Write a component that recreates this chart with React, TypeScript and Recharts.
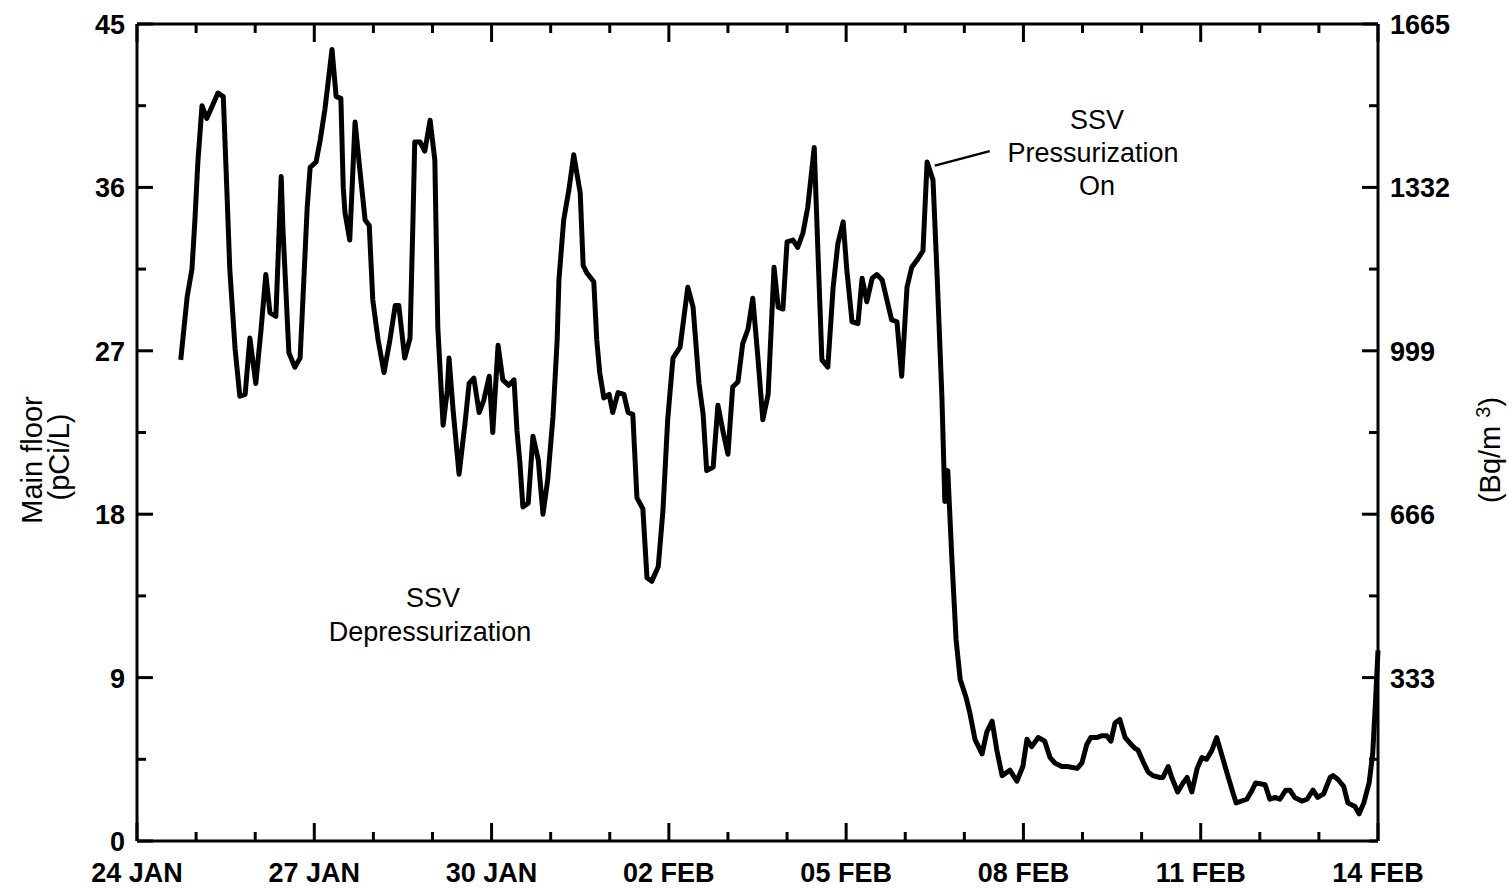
import React from 'react';
import { LineChart, Line, XAxis, YAxis, ReferenceLine } from 'recharts';

// time in days after 24 JAN 00:00, radon in pCi/L
const timeDays = [
  0.74, 0.85, 0.93, 0.98, 1.03, 1.10, 1.18, 1.37, 1.46, 1.52,
  1.57, 1.66, 1.74, 1.83, 1.91, 2.01, 2.10, 2.18, 2.25, 2.35,
  2.44, 2.47, 2.57, 2.67, 2.76, 2.81, 2.88, 2.93, 3.03, 3.10,
  3.18, 3.30, 3.37, 3.45, 3.49, 3.52, 3.60, 3.69, 3.77, 3.86,
  3.93, 3.99, 4.08, 4.18, 4.28, 4.37, 4.43, 4.53, 4.62, 4.67,
  4.70, 4.79, 4.87, 4.96, 5.04, 5.09, 5.18, 5.25, 5.28, 5.35,
  5.45, 5.55, 5.62, 5.70, 5.79, 5.87, 5.96, 6.02, 6.11, 6.19,
  6.29, 6.38, 6.43, 6.48, 6.53, 6.62, 6.70, 6.79, 6.87, 6.95,
  7.04, 7.11, 7.14, 7.22, 7.31, 7.39, 7.50, 7.55, 7.61, 7.73,
  7.78, 7.83, 7.90, 7.99, 8.05, 8.14, 8.24, 8.31, 8.39, 8.46,
  8.56, 8.63, 8.71, 8.82, 8.90, 8.98, 9.07, 9.19, 9.32, 9.41,
  9.51, 9.58, 9.64, 9.75, 9.83, 9.92, 10.00, 10.08, 10.17, 10.25,
  10.34, 10.42, 10.51, 10.59, 10.68, 10.78, 10.85, 10.93, 11.00, 11.10,
  11.18, 11.27, 11.35, 11.46, 11.52, 11.59, 11.69, 11.78, 11.86, 11.95,
  12.01, 12.10, 12.20, 12.27, 12.35, 12.44, 12.52, 12.61, 12.69, 12.77,
  12.86, 12.94, 13.03, 13.11, 13.20, 13.30, 13.37, 13.47, 13.54, 13.62,
  13.67, 13.72, 13.79, 13.86, 13.93, 14.03, 14.09, 14.18, 14.30, 14.38,
  14.47, 14.55, 14.64, 14.77, 14.89, 14.99, 15.06, 15.14, 15.25, 15.36,
  15.45, 15.53, 15.65, 15.74, 15.91, 15.99, 16.07, 16.14, 16.24, 16.33,
  16.41, 16.48, 16.55, 16.63, 16.72, 16.80, 16.89, 16.94, 17.02, 17.11,
  17.19, 17.31, 17.36, 17.45, 17.51, 17.61, 17.70, 17.77, 17.85, 17.94,
  18.02, 18.10, 18.19, 18.27, 18.36, 18.44, 18.55, 18.60, 18.78, 18.87,
  18.93, 19.09, 19.17, 19.26, 19.34, 19.44, 19.51, 19.59, 19.71, 19.80,
  19.90, 19.98, 20.08, 20.19, 20.24, 20.32, 20.42, 20.49, 20.61, 20.68,
  20.76, 20.85, 20.91, 20.96, 21.0,
];

const radonPci = [
  26.5, 30.0, 31.5, 34.2, 37.4, 40.5, 39.8, 41.2, 41.0, 35.9,
  31.5, 27.1, 24.5, 24.6, 27.7, 25.2, 28.2, 31.2, 29.1, 28.9,
  36.6, 33.7, 26.9, 26.1, 26.6, 30.0, 34.9, 37.1, 37.4, 38.6,
  40.3, 43.6, 41.0, 40.9, 36.0, 34.6, 33.1, 39.6, 37.0, 34.2,
  33.9, 29.8, 27.6, 25.8, 27.6, 29.5, 29.5, 26.6, 27.7, 34.2,
  38.5, 38.5, 38.0, 39.7, 37.5, 28.3, 22.9, 24.8, 26.6, 23.7,
  20.2, 23.0, 25.2, 25.5, 23.6, 24.3, 25.6, 22.5, 27.3, 25.4,
  25.1, 25.4, 22.6, 20.8, 18.4, 18.6, 22.3, 21.0, 18.0, 19.9,
  23.4, 27.6, 30.9, 34.2, 35.9, 37.8, 35.7, 31.7, 31.3, 30.8,
  27.6, 25.8, 24.4, 24.6, 23.6, 24.7, 24.6, 23.6, 23.5, 18.9,
  18.3, 14.5, 14.3, 15.1, 18.2, 23.2, 26.6, 27.2, 30.5, 29.4,
  25.2, 23.5, 20.4, 20.6, 24.0, 22.5, 21.3, 25.0, 25.3, 27.4,
  28.2, 29.9, 26.5, 23.2, 24.6, 31.6, 29.4, 29.3, 33.0, 33.1,
  32.7, 33.5, 34.9, 38.2, 32.7, 26.5, 26.1, 30.5, 32.9, 34.1,
  31.5, 28.6, 28.5, 31.0, 29.7, 31.0, 31.2, 30.9, 29.8, 28.7,
  28.6, 25.6, 30.5, 31.6, 32.0, 32.5, 37.4, 36.4, 31.1, 24.5,
  18.7, 20.4, 15.5, 11.1, 8.9, 7.9, 7.1, 5.6, 4.8, 6.0,
  6.6, 5.0, 3.6, 3.9, 3.3, 4.1, 5.6, 5.2, 5.7, 5.5,
  4.6, 4.3, 4.1, 4.1, 4.0, 4.3, 5.3, 5.7, 5.7, 5.8,
  5.8, 5.5, 6.5, 6.7, 5.7, 5.4, 5.1, 5.0, 4.4, 3.8,
  3.6, 3.5, 3.5, 4.1, 3.5, 2.7, 3.2, 3.5, 2.7, 4.0,
  4.6, 4.5, 5.0, 5.7, 4.7, 3.8, 2.6, 2.1, 2.3, 2.8,
  3.2, 3.1, 2.3, 2.4, 2.3, 2.8, 2.8, 2.4, 2.2, 2.3,
  2.8, 2.4, 2.6, 3.5, 3.6, 3.4, 3.0, 2.1, 1.9, 1.5,
  2.1, 3.2, 4.8, 7.8, 10.5,
];

const dayTicks = [0, 1, 2, 3, 4, 5, 6, 7, 8, 9, 10, 11, 12, 13, 14, 15, 16, 17, 18, 19, 20, 21];
const dayLabelTicks = [0, 3, 6, 9, 12, 15, 18, 21];
const dayLabels = ['24 JAN', '27 JAN', '30 JAN', '02 FEB', '05 FEB', '08 FEB', '11 FEB', '14 FEB'];

const pciTicks = [0, 4.5, 9, 13.5, 18, 22.5, 27, 31.5, 36, 40.5, 45];
const pciLabelTicks = [0, 9, 18, 27, 36, 45];

const bqTicks = [0, 166.5, 333, 499.5, 666, 832.5, 999, 1165.5, 1332, 1498.5, 1665];
const bqLabelTicks = [333, 666, 999, 1332, 1665];

const chartData = timeDays.map((t, i) => ({ t, v: radonPci[i] }));

const FONT = '"Liberation Sans", Arial, Helvetica, sans-serif';
const INK = '#000';

const BottomTick = (props: any) => {
  const { x, y, payload } = props;
  const idx = dayLabelTicks.indexOf(payload.value);
  const major = idx >= 0;
  return (
    <g>
      <line x1={x} x2={x} y1={y} y2={y - (major ? 18 : 9)} stroke={INK} strokeWidth={3} />
      {major && (
        <text x={x} y={y + 41} textAnchor="middle" fontFamily={FONT} fontWeight="bold" fontSize={27} fill={INK}>
          {dayLabels[idx]}
        </text>
      )}
    </g>
  );
};

const TopTick = (props: any) => {
  const { x, y, payload } = props;
  const major = dayLabelTicks.indexOf(payload.value) >= 0;
  return <line x1={x} x2={x} y1={y} y2={y + (major ? 18 : 9)} stroke={INK} strokeWidth={3} />;
};

const LeftTick = (props: any) => {
  const { x, y, payload } = props;
  const major = pciLabelTicks.indexOf(payload.value) >= 0;
  return (
    <g>
      <line x1={x} x2={x + (major ? 16 : 9)} y1={y} y2={y} stroke={INK} strokeWidth={3} />
      {major && (
        <text x={x - 12} y={y + 10} textAnchor="end" fontFamily={FONT} fontWeight="bold" fontSize={27} fill={INK}>
          {payload.value}
        </text>
      )}
    </g>
  );
};

const RightTick = (props: any) => {
  const { x, y, payload } = props;
  const major = bqLabelTicks.indexOf(payload.value) >= 0;
  return (
    <g>
      <line x1={x} x2={x - (major ? 16 : 9)} y1={y} y2={y} stroke={INK} strokeWidth={3} />
      {major && (
        <text x={x + 12} y={y + 10} textAnchor="start" fontFamily={FONT} fontWeight="bold" fontSize={27} fill={INK}>
          {payload.value}
        </text>
      )}
    </g>
  );
};

const textStyle: React.CSSProperties = {
  position: 'absolute',
  fontFamily: FONT,
  fontSize: 27,
  color: INK,
  whiteSpace: 'nowrap',
  transform: 'translate(-50%, -50%)',
  lineHeight: 1,
};

const vertStyle: React.CSSProperties = {
  ...textStyle,
  fontSize: 29,
  transform: 'translate(-50%, -50%) rotate(-90deg)',
};

export default function App() {
  return (
    <div style={{ position: 'absolute', left: 0, top: 0, width: 1508, height: 888, background: '#fff' }}>
      <LineChart width={1508} height={888} data={chartData} margin={{ top: 23, right: 0, bottom: 0, left: 0 }}>
        <XAxis
          xAxisId="x"
          dataKey="t"
          type="number"
          orientation="bottom"
          domain={[0, 21]}
          ticks={dayTicks}
          interval={0}
          height={47}
          tickSize={0}
          tickMargin={0}
          tickLine={false}
          axisLine={{ stroke: INK, strokeWidth: 3 }}
          tick={<BottomTick />}
        />
        <XAxis
          xAxisId="top"
          dataKey="t"
          type="number"
          orientation="top"
          domain={[0, 21]}
          ticks={dayTicks}
          interval={0}
          height={1}
          tickSize={0}
          tickMargin={0}
          tickLine={false}
          axisLine={{ stroke: INK, strokeWidth: 3 }}
          tick={<TopTick />}
        />
        <YAxis
          yAxisId="left"
          type="number"
          orientation="left"
          domain={[0, 45]}
          ticks={pciTicks}
          interval={0}
          width={137}
          tickSize={0}
          tickMargin={0}
          tickLine={false}
          axisLine={{ stroke: INK, strokeWidth: 3 }}
          tick={<LeftTick />}
        />
        <YAxis
          yAxisId="right"
          type="number"
          orientation="right"
          domain={[0, 1665]}
          ticks={bqTicks}
          interval={0}
          width={130}
          tickSize={0}
          tickMargin={0}
          tickLine={false}
          axisLine={{ stroke: INK, strokeWidth: 3 }}
          tick={<RightTick />}
        />
        <ReferenceLine
          xAxisId="x"
          yAxisId="left"
          segment={[{ x: 13.5, y: 37.2 }, { x: 14.43, y: 38.0 }]}
          stroke={INK}
          strokeWidth={2.5}
        />
        {/* invisible twin so the top and right frame axes get their scales */}
        <Line
          xAxisId="top"
          yAxisId="right"
          dataKey="v"
          stroke="none"
          dot={false}
          activeDot={false}
          legendType="none"
          isAnimationActive={false}
        />
        <Line
          xAxisId="x"
          yAxisId="left"
          dataKey="v"
          type="linear"
          stroke={INK}
          strokeWidth={5}
          strokeLinejoin="round"
          dot={false}
          activeDot={false}
          isAnimationActive={false}
        />
      </LineChart>

      <div style={{ ...textStyle, left: 433, top: 598 }}>SSV</div>
      <div style={{ ...textStyle, left: 430, top: 632 }}>Depressurization</div>
      <div style={{ ...textStyle, left: 1097, top: 120 }}>SSV</div>
      <div style={{ ...textStyle, left: 1093, top: 153 }}>Pressurization</div>
      <div style={{ ...textStyle, left: 1097, top: 186 }}>On</div>

      <div style={{ ...vertStyle, left: 32, top: 460 }}>Main floor</div>
      <div style={{ ...vertStyle, left: 59, top: 457 }}>(pCi/L)</div>
      <div style={{ ...vertStyle, left: 1489, top: 450 }}>
        (Bq/m <sup style={{ fontSize: 20 }}>3</sup>)
      </div>
    </div>
  );
}
